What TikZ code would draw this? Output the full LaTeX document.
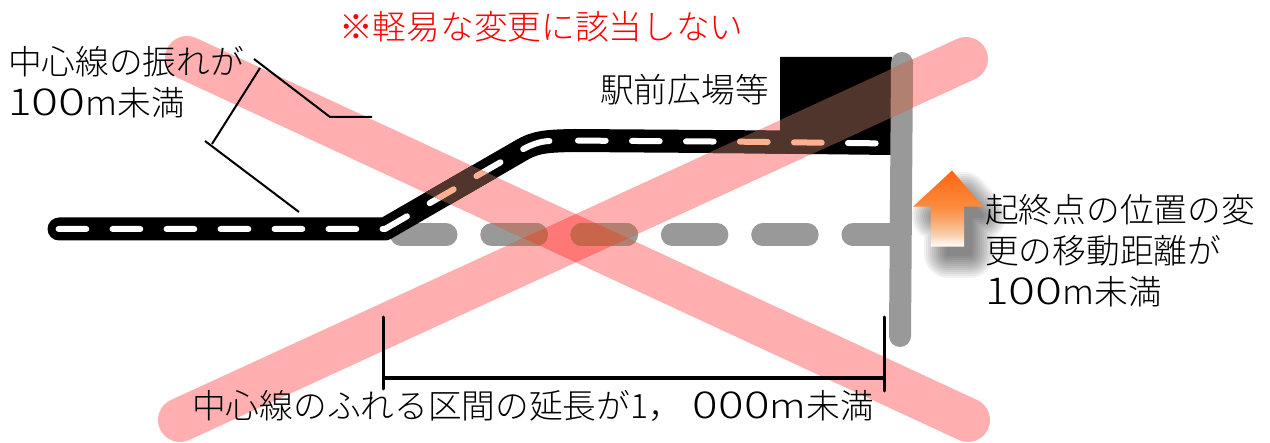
\documentclass[tikz,border=0pt]{standalone}
\usepackage{fontspec}
\usepackage{graphicx}
\setmainfont{Noto Sans CJK JP Light}
\definecolor{grayline}{HTML}{999999}
\definecolor{xred}{HTML}{FF0000}
\definecolor{brownroad}{HTML}{50352C}
\definecolor{peachdash}{HTML}{FFB090}
\definecolor{graytint}{HTML}{B28070}
\definecolor{graycross}{HTML}{C8654A}
\definecolor{arrowtop}{HTML}{FF6510}
\definecolor{arrowmid}{HTML}{FA8C40}
\definecolor{arrowlow}{HTML}{F9A060}
\definecolor{arrowpale}{HTML}{F9CFAC}
\pgfdeclareverticalshading{arrowfade}{100bp}{color(0bp)=(white); color(25bp)=(white); color(33bp)=(arrowpale); color(44.5bp)=(arrowlow); color(51bp)=(arrowmid); color(75bp)=(arrowtop); color(100bp)=(arrowtop)}
\newcommand{\hundredm}{\scalebox{1.3}[1.1]{1}\scalebox{1.5}[1.1]{00}\scalebox{1.05}[1]{m}}
\newcommand{\stripA}{(177.75,78) -- (196.25,38) -- (977.25,400) -- (958.75,440) -- cycle}
\newcommand{\stripB}{(170.8,400) -- (189.2,440) -- (975.2,79) -- (956.8,39) -- cycle}
\newcommand{\grayparts}[1]{%
  \draw[#1,line width=23pt,line cap=round,dash pattern=on 44.5pt off 45.8pt] (401.5,235) -- (890,235);}
\newcommand{\blackparts}[2]{%
  \fill[#1] (780,57) -- (892,57) -- (892,155) -- (780,135) -- cycle;
  \draw[#1,line width=23pt,line cap=round,line join=round] (59,229) -- (385,229) -- (520,151) .. controls (535,142) and (545,141) .. (575,140.5) -- (740,141.7) -- (890,143.5);
  \draw[#2,line width=6pt,line cap=round,dash pattern=on 27.7pt off 26.3pt] (58.6,229) -- (385,229) -- (520,151) .. controls (535,142) and (545,141) .. (551,141);
  \draw[#2,line width=6pt,line cap=round,dash pattern=on 27.7pt off 26.3pt] (578,140.6) -- (740,141.7) -- (890,143.5);}
\newcommand{\vertpart}[1]{%
  \draw[#1,line width=22pt,line cap=round] (902,63) -- (900,336);}
\tikzset{
  label text/.style={anchor=west,inner sep=0pt,font=\fontsize{33.7}{40}\selectfont},
  leader/.style={black,line width=2pt},
  span/.style={black,line width=3pt,line cap=round},
  cross/.style={xred,opacity=.315,line width=44pt,line cap=round}
}
\begin{document}
\begin{tikzpicture}[x=1pt,y=-1pt]
\useasboundingbox (0,0) rectangle (1270,443);
% shadow of the arrow: dilated layers, each one uniform
\foreach \w in {48,44,...,4}{
  \begin{scope}[transparency group,opacity=.05]
  \filldraw[black,line width=\w pt,line join=round]
    (964,196) -- (982,216) -- (970,216) -- (970,254) -- (948,254) -- (948,216) -- (936,216) -- cycle;
  \end{scope}
}
% road and gray alignment
\grayparts{grayline}
\blackparts{black}{white}
\vertpart{grayline}
% the cross
\draw[cross] (187,58) -- (968,420);
\draw[cross] (180,420) -- (966,59);
% tints of what lies under the cross
\begin{scope}
  \clip \stripA;
  \grayparts{graytint}\blackparts{brownroad}{peachdash}\vertpart{graytint}
\end{scope}
\begin{scope}
  \clip \stripB;
  \grayparts{graytint}\blackparts{brownroad}{peachdash}\vertpart{graytint}
\end{scope}
\begin{scope}
  \clip \stripA;
  \clip \stripB;
  \grayparts{graycross}
\end{scope}
% arrow
\shade[shading=arrowfade]
  (952,170.5) -- (983,206.7) -- (964,206.7) -- (964,246.7) -- (930.5,246.7) -- (930.5,206.7) -- (913,206.7) -- cycle;
% leaders
\coordinate (la) at (254,59);
\coordinate (lb) at (330,117);
\coordinate (lc) at (372,117);
\coordinate (ld) at (260,68);
\coordinate (le) at (212,144);
\coordinate (lf) at (205,141);
\coordinate (lg) at (299,212);
\draw[leader] (la) -- (lb) -- (lc);
\draw[leader] (ld) -- (le);
\draw[leader] (lf) -- (lg);
% span
\coordinate (sa) at (383,317);
\coordinate (sb) at (383,389);
\coordinate (sc) at (884,317);
\coordinate (sd) at (884,391);
\coordinate (se) at (383,378);
\coordinate (sf) at (884,378);
\draw[span] (sa) -- (sb);
\draw[span] (sc) -- (sd);
\draw[black,line width=4.5pt] (se) -- (sf);
% texts
\node[label text,text=red] (t1) at (339,27) {※軽易な変更に該当しない};
\node[label text] (t2) at (600,90) {駅前広場等};
\node[label text] (t3) at (8,62) {中心線の振れが};
\node[label text] (t4) at (8,103) {\hundredm 未満};
\node[label text] (t5) at (985,210) {起終点の位置の変};
\node[label text] (t6) at (985,251) {更の移動距離が};
\node[label text] (t7) at (985,292) {\hundredm 未満};
\node[label text] (t8) at (192,406) {中心線のふれる区間の延長が\makebox[18pt]{1}，\hspace{11pt}\scalebox{1.42}[1.1]{000}\scalebox{1.2}[1]{m}未満};
\end{tikzpicture}
\end{document}
